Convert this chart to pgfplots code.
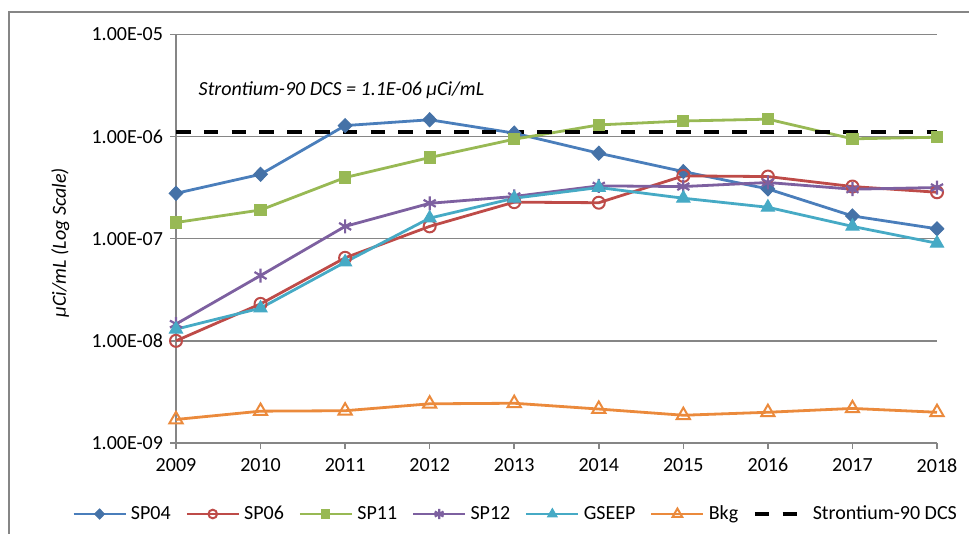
\documentclass[border=0pt]{standalone}
\usepackage{pgfplots}
\pgfplotsset{compat=1.18}
\usepackage{fontspec}
\setmainfont{Carlito}
\definecolor{cSPa}{HTML}{4A7EBB}
\definecolor{cSPam}{HTML}{4572A7}
\definecolor{cSPb}{HTML}{BE4B48}
\definecolor{cSPc}{HTML}{98B954}
\definecolor{cSPd}{HTML}{7D60A0}
\definecolor{cGS}{HTML}{46AAC5}
\definecolor{cBk}{HTML}{EB8A3C}
\definecolor{gridgray}{RGB}{134,134,134}
\definecolor{bordergray}{RGB}{134,134,134}
\begin{document}
\fontsize{10}{12}\selectfont
\begin{tikzpicture}
\path[use as bounding box] (0,0) rectangle (484.5pt,267pt);
\draw[line width=0.7pt, color=bordergray] (4.5pt,0) -- (4.5pt,261pt) -- (484.5pt,261pt);
\begin{axis}[
  at={(88pt,45.5pt)}, anchor=south west,
  scale only axis, width=380.5pt, height=204.3pt,
  ymode=log, ymin=1e-9, ymax=1e-5,
  xmin=2009, xmax=2018,
  xtick={2009,2010,2011,2012,2013,2014,2015,2016,2017,2018},
  xticklabels={2009,2010,2011,2012,2013,2014,2015,2016,2017,2018},
  ytick={1e-9,1e-8,1e-7,1e-6,1e-5},
  yticklabels={1.00E-09,1.00E-08,1.00E-07,1.00E-06,1.00E-05},
  yminorticks=false,
  axis lines=left,
  axis line style={-, draw=gridgray, line width=0.75pt},
  ymajorgrids, grid style={draw=gridgray, line width=0.75pt},
  tick align=outside, major tick length=3pt,
  tick style={draw=gridgray, line width=0.75pt},
  every tick label/.append style={font=\fontsize{10}{12}\selectfont, text=black},
  xticklabel style={yshift=-1.2pt},
  ylabel={µCi/mL (Log Scale)},
  ylabel style={font=\itshape\fontsize{10}{12}\selectfont, at={(axis description cs:-0.152,0.49)}, anchor=center},
  clip=false,
  legend columns=7,
  legend style={draw=none, fill=none, at={(axis description cs:0.4475,-0.1738)}, anchor=center,
    font=\fontsize{10}{12}\selectfont,
    /tikz/every even column/.append style={column sep=5.3pt},
    nodes={inner xsep=2pt}},
  legend image code/.code={\draw[mark repeat=2,mark phase=2,#1,every mark/.append style={scale=0.72}] plot coordinates {(0pt,0pt) (13pt,0pt) (26pt,0pt)};},
  every axis plot/.append style={line width=1.4pt},
]
\addplot[color=cSPa, mark=diamond*, mark size=3.5pt, mark options={fill=cSPam, draw=cSPam, xscale=1.3, line width=0.5pt}]
 coordinates {(2009,2.78e-7) (2010,4.27e-7) (2011,1.28e-6) (2012,1.46e-6) (2013,1.08e-6) (2014,6.87e-7) (2015,4.54e-7) (2016,3.07e-7) (2017,1.67e-7) (2018,1.25e-7)};
\addlegendentry{SP04}
\addplot[color=cSPb, mark=o, mark size=3pt, mark options={fill=white, draw=cSPb, line width=1pt}]
 coordinates {(2009,1.0e-8) (2010,2.3e-8) (2011,6.5e-8) (2012,1.32e-7) (2013,2.28e-7) (2014,2.25e-7) (2015,4.12e-7) (2016,4.06e-7) (2017,3.24e-7) (2018,2.85e-7)};
\addlegendentry{SP06}
\addplot[color=cSPc, mark=square*, mark size=2.8pt, mark options={fill=cSPc, draw=cSPc, line width=0.5pt}]
 coordinates {(2009,1.44e-7) (2010,1.91e-7) (2011,3.97e-7) (2012,6.23e-7) (2013,9.42e-7) (2014,1.30e-6) (2015,1.42e-6) (2016,1.48e-6) (2017,9.5e-7) (2018,9.85e-7)};
\addlegendentry{SP11}
\addplot[color=cSPd, mark=asterisk, mark size=3.5pt, mark options={draw=cSPd, line width=1.1pt}]
 coordinates {(2009,1.46e-8) (2010,4.36e-8) (2011,1.32e-7) (2012,2.22e-7) (2013,2.59e-7) (2014,3.29e-7) (2015,3.24e-7) (2016,3.55e-7) (2017,3.05e-7) (2018,3.17e-7)};
\addlegendentry{SP12}
\addplot[color=cGS, mark=triangle*, mark size=3.8pt, mark options={fill=cGS, draw=cGS, line width=0.5pt}]
 coordinates {(2009,1.30e-8) (2010,2.09e-8) (2011,5.89e-8) (2012,1.59e-7) (2013,2.49e-7) (2014,3.17e-7) (2015,2.49e-7) (2016,2.03e-7) (2017,1.32e-7) (2018,9.03e-8)};
\addlegendentry{GSEEP}
\addplot[color=cBk, mark=triangle, mark size=3.8pt, mark options={fill=white, draw=cBk, line width=1pt}]
 coordinates {(2009,1.70e-9) (2010,2.05e-9) (2011,2.07e-9) (2012,2.42e-9) (2013,2.45e-9) (2014,2.15e-9) (2015,1.87e-9) (2016,2.0e-9) (2017,2.18e-9) (2018,2.0e-9)};
\addlegendentry{Bkg}
\addplot[color=black, line width=2pt, dash pattern=on 7.3pt off 6.6pt, mark=none]
 coordinates {(2009,1.1e-6) (2018,1.1e-6)};
\addlegendentry{Strontium-90 DCS}
\node[anchor=west, font=\itshape\fontsize{10}{12}\selectfont] at (axis description cs:0.0206,0.864) {Strontium-90 DCS = 1.1E-06 µCi/mL};
\end{axis}
\end{tikzpicture}
\end{document}
